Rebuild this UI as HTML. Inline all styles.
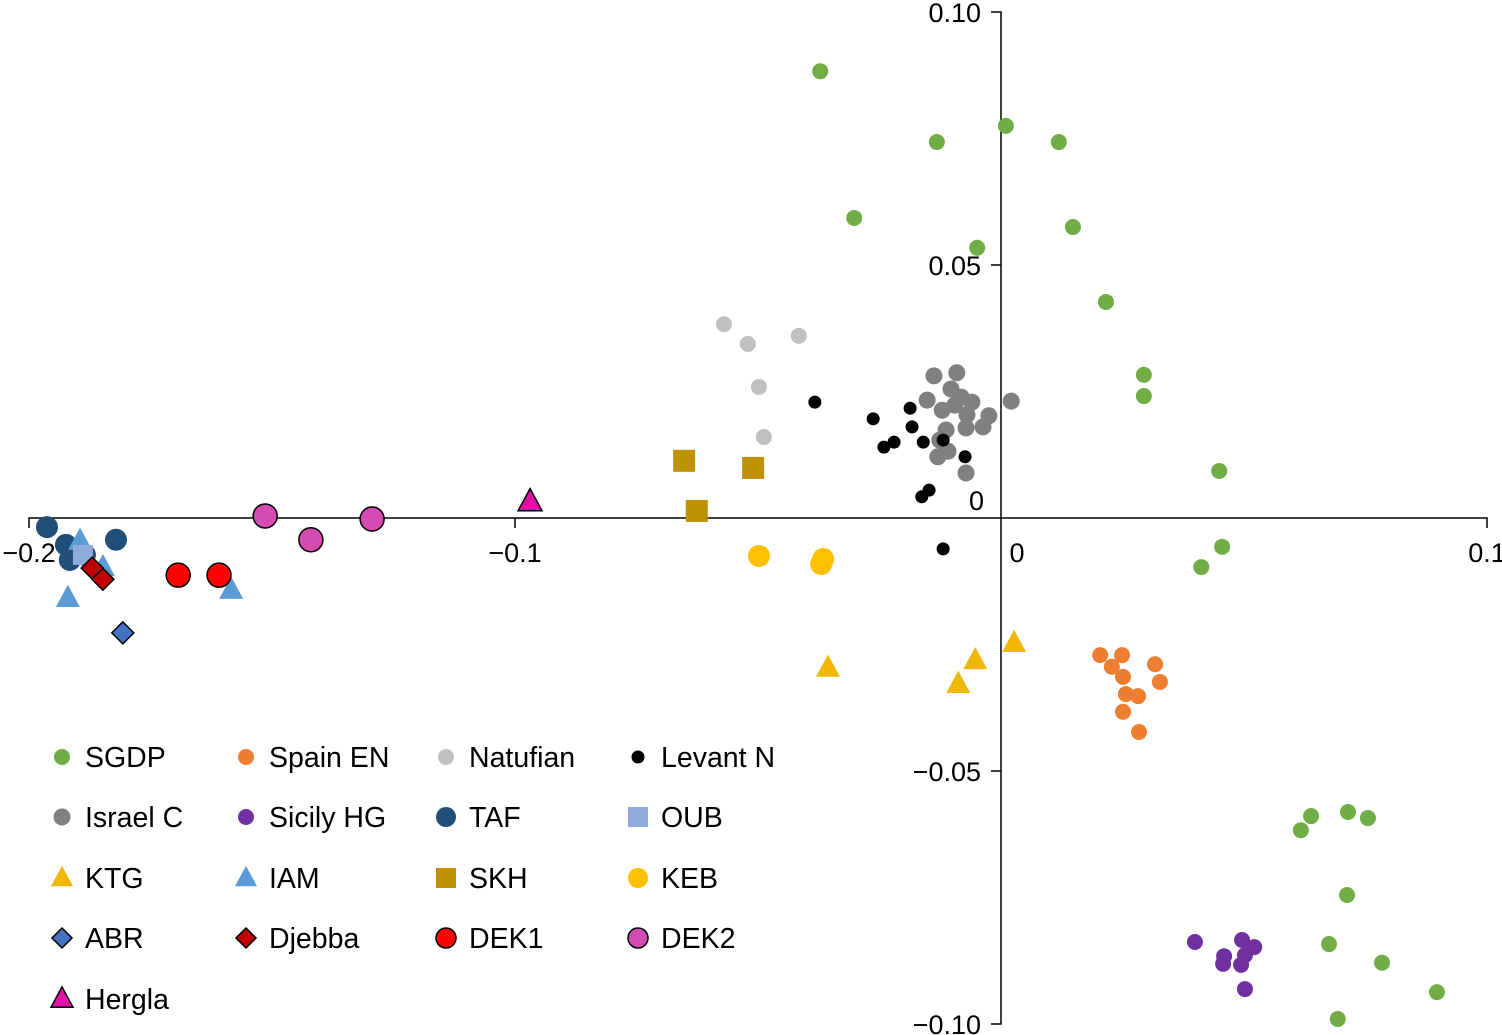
<!DOCTYPE html>
<html><head><meta charset="utf-8"><style>
html,body{margin:0;padding:0;background:#fff;}
svg{display:block;font-family:"Liberation Sans",Arial,sans-serif;}
</style></head><body>
<svg id="chart" width="1502" height="1035" viewBox="0 0 1502 1035" xmlns="http://www.w3.org/2000/svg">
<g id="axes"></g>
<g id="marks"></g>
<g id="legend"></g>
</svg>
<script>
const xTicks=[-0.2,-0.1,0,0.1];
const xTickLabels=["\u22120.2","\u22120.1","0","0.1"];
const yTicks=[0.10,0.05,0,-0.05,-0.10];
const yTickLabels=["0.10","0.05","0","\u22120.05","\u22120.10"];
const groupNames=["SGDP","Spain EN","Natufian","Levant N","Israel C","Sicily HG","TAF","OUB","KTG","IAM","SKH","KEB","ABR","Djebba","DEK1","DEK2","Hergla"];
const sgdpX=[-0.0372,-0.0132,0.0010,0.0119,-0.0302,-0.0049,0.0148,0.0216,0.0294,0.0294,0.0449,0.0455,0.0412,0.0617,0.0638,0.0714,0.0755,0.0712,0.0675,0.0784,0.0897,0.0693];
const sgdpY=[0.0883,0.0743,0.0775,0.0743,0.0593,0.0534,0.0575,0.0427,0.0283,0.0241,0.0093,-0.0057,-0.0097,-0.0617,-0.0589,-0.0581,-0.0593,-0.0745,-0.0842,-0.0879,-0.0937,-0.0990];
const spainX=[0.0204,0.0249,0.0228,0.0251,0.0317,0.0327,0.0257,0.0282,0.0251,0.0284];
const spainY=[-0.0271,-0.0271,-0.0294,-0.0314,-0.0289,-0.0324,-0.0348,-0.0352,-0.0383,-0.0423];
const natX=[-0.0570,-0.0521,-0.0416,-0.0498,-0.0488];
const natY=[0.0383,0.0344,0.0360,0.0259,0.0160];
const levX=[-0.0383,-0.0263,-0.0187,-0.0183,-0.0241,-0.0220,-0.0160,-0.0119,-0.0074,-0.0148,-0.0163,-0.0119];
const levY=[0.0229,0.0196,0.0217,0.0180,0.0140,0.0150,0.0150,0.0154,0.0121,0.0055,0.0042,-0.0061];
const isrX=[-0.0138,-0.0091,-0.0152,-0.0103,-0.0082,-0.0060,-0.0121,-0.0095,-0.0070,-0.0025,0.0021,-0.0113,-0.0072,-0.0037,-0.0130,-0.0109,-0.0072,-0.0126];
const isrY=[0.0281,0.0287,0.0233,0.0255,0.0239,0.0229,0.0213,0.0223,0.0204,0.0202,0.0231,0.0174,0.0178,0.0180,0.0121,0.0132,0.0089,0.0154];
const sicX=[0.0399,0.0459,0.0457,0.0496,0.0521,0.0502,0.0494,0.0502];
const sicY=[-0.0838,-0.0866,-0.0881,-0.0834,-0.0848,-0.0864,-0.0883,-0.0931];
const tafX=[-0.1963,-0.1924,-0.1903,-0.1916,-0.1821,-0.1885];
const tafY=[-0.0018,-0.0053,-0.0067,-0.0083,-0.0043,-0.0073];
const oubX=[-0.1889];const oubY=[-0.0073];
const ktgX=[-0.0356,-0.0088,-0.0053,0.0027];
const ktgY=[-0.0296,-0.0328,-0.0281,-0.0247];
const iamX=[-0.1895,-0.1848,-0.1920,-0.1584];
const iamY=[-0.0045,-0.0097,-0.0158,-0.0142];
const skhX=[-0.0652,-0.0510,-0.0626];
const skhY=[0.0113,0.0099,0.0014];
const kebX=[-0.0498,-0.0366,-0.0370];
const kebY=[-0.0075,-0.0081,-0.0091];
const abrX=[-0.1807];const abrY=[-0.0227];
const djeX=[-0.1870,-0.1848];const djeY=[-0.0099,-0.0121];
const dek1X=[-0.1693,-0.1609];const dek1Y=[-0.0113,-0.0113];
const dek2X=[-0.1514,-0.1420,-0.1294];const dek2Y=[0.0004,-0.0043,-0.0002];
const herX=[-0.0969];const herY=[0.0032];

const NS="http://www.w3.org/2000/svg";
const X0=1001,XS=4860,Y0=518,YS=5060;
function sx(v){return X0+v*XS;}
function sy(v){return Y0-v*YS;}
function mk(tag,attrs,parent){const e=document.createElementNS(NS,tag);for(const k in attrs)e.setAttribute(k,attrs[k]);parent.appendChild(e);return e;}
const axes=document.getElementById('axes');
const marks=document.getElementById('marks');
const legend=document.getElementById('legend');
let xl=mk('path',{d:`M${sx(-0.2)},${Y0+10}V${Y0}H${sx(0.1)}V${Y0+10}`,stroke:'#000','stroke-width':1.5,fill:'none'},axes);


let yl=mk('path',{d:`M${X0-10},${sy(0.1)}H${X0}V${sy(-0.1)}H${X0-10}`,stroke:'#000','stroke-width':1.5,fill:'none'},axes);


xTicks.forEach((v,i)=>{
  if(v!==0&&v!==-0.2&&v!==0.1){let t=mk('line',{x1:sx(v),x2:sx(v),y1:Y0,y2:Y0+10,stroke:'#000','stroke-width':1.5},axes);
  
  }
  let tx=mk('text',{x:v===0?sx(v)+16:sx(v),y:Y0+44,'font-size':27,'text-anchor':'middle',fill:'#000'},axes);
  tx.textContent=xTickLabels[i];
  
  
});
yTicks.forEach((v,i)=>{
  if(Math.abs(v)===0.05){let t=mk('line',{x1:X0-10,x2:X0,y1:sy(v),y2:sy(v),stroke:'#000','stroke-width':1.5},axes);
  
  }
  let ty=v===0?Y0-8:sy(v)+10;
  let tx=mk('text',{x:v===0?984:981,y:ty,'font-size':27,'text-anchor':'end',fill:'#000'},axes);
  tx.textContent=yTickLabels[i];
  
  
});
function shape(type,cx,cy,s,fill,stroke,parent){
  let e;
  if(type==='c') e=mk('circle',{cx,cy,r:s,fill},parent);
  else if(type==='sq') e=mk('rect',{x:cx-s,y:cy-s,width:2*s,height:2*s,fill},parent);
  else if(type==='tri') e=mk('polygon',{points:`${cx},${cy-s*1.1} ${cx-s},${cy+s*0.75} ${cx+s},${cy+s*0.75}`,fill},parent);
  else if(type==='dia') e=mk('polygon',{points:`${cx},${cy-s} ${cx+s},${cy} ${cx},${cy+s} ${cx-s},${cy}`,fill},parent);
  if(stroke){e.setAttribute('stroke','#000');e.setAttribute('stroke-width',1.5);}
  return e;
}
const groups=[
 [sgdpX,sgdpY,'c',8,'#70ad47',0,'sgdp'],
 [spainX,spainY,'c',8,'#ed7d31',0,'spain-en'],
 [natX,natY,'c',8,'#c0c0c0',0,'natufian'],
 [tafX,tafY,'c',11,'#1f4e79',0,'taf'],
 [iamX,iamY,'tri',12,'#5b9bd5',0,'iam'],
 [oubX,oubY,'sq',10,'#8faadc',0,'oub'],
 [isrX,isrY,'c',8.5,'#808080',0,'israel-c'],
 [levX,levY,'c',6.5,'#000000',0,'levant-n'],
 [sicX,sicY,'c',8,'#7030a0',0,'sicily-hg'],
 [ktgX,ktgY,'tri',12,'#f2b705',0,'ktg'],
 [skhX,skhY,'sq',11,'#bf9000',0,'skh'],
 [kebX,kebY,'c',11,'#ffc000',0,'keb'],
 [abrX,abrY,'dia',11,'#4472c4',1,'abr'],
 [djeX,djeY,'dia',11,'#c00000',1,'djebba'],
 [dek1X,dek1Y,'c',12,'#ff0000',1,'dek1'],
 [dek2X,dek2Y,'c',12,'#d64bb1',1,'dek2'],
 [herX,herY,'tri',12,'#e010a8',1,'hergla']
];
groups.forEach(g=>{
  g[0].forEach((v,i)=>{
    const e=shape(g[2],sx(v),sy(g[1][i]),g[3],g[4],g[5],marks);
    
    
  });
});
const legItems=[
 ['SGDP','c',8,'#70ad47',0],['Spain EN','c',8,'#ed7d31',0],['Natufian','c',8,'#c0c0c0',0],['Levant N','c',6.5,'#000',0],
 ['Israel C','c',8.5,'#808080',0],['Sicily HG','c',8,'#7030a0',0],['TAF','c',10,'#1f4e79',0],['OUB','sq',10,'#8faadc',0],
 ['KTG','tri',11,'#f2b705',0],['IAM','tri',11,'#5b9bd5',0],['SKH','sq',10,'#bf9000',0],['KEB','c',10,'#ffc000',0],
 ['ABR','dia',10,'#4472c4',1],['Djebba','dia',10,'#c00000',1],['DEK1','c',10,'#ff0000',1],['DEK2','c',10,'#d64bb1',1],
 ['Hergla','tri',11,'#e010a8',1]
];
const colX=[62,246,446,638], rowY=[757,817,878,938,999];
legItems.forEach((it,i)=>{
  const cx=colX[i%4], cy=rowY[Math.floor(i/4)];
  const gEl=mk('g',{},legend);
  
  
  shape(it[1],cx,cy,it[2],it[3],it[4],gEl);
  const t=mk('text',{x:cx+23,y:cy+10,'font-size':28.5,fill:'#000'},gEl);
  t.textContent=it[0];
});
</script>
</body></html>
